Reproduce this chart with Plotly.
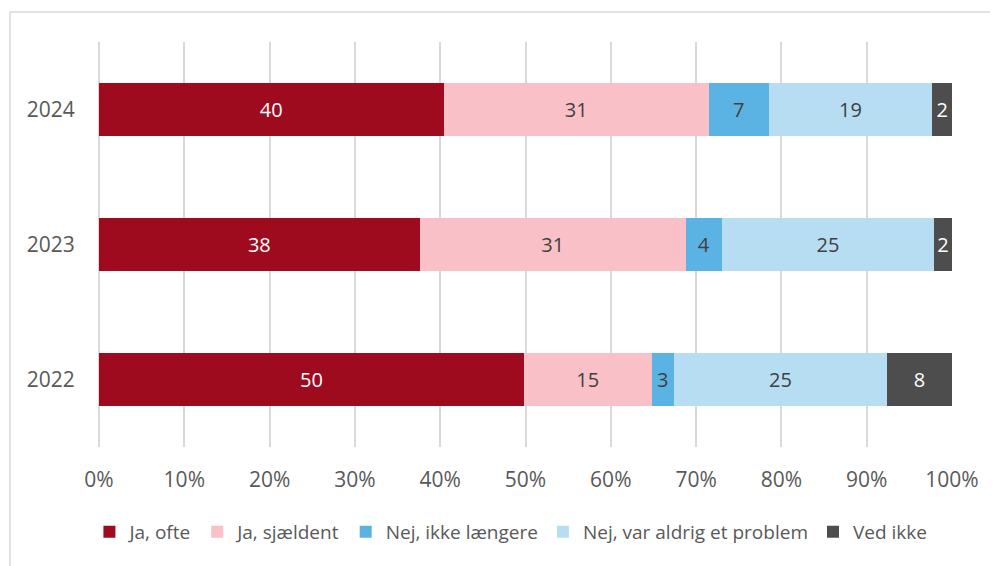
import plotly.graph_objects as go

# Survey share per year (percent)
years = ['2022', '2023', '2024']
series_names = ['Ja, ofte', 'Ja, sjældent', 'Nej, ikke længere',
                'Nej, var aldrig et problem', 'Ved ikke']
ja_ofte = [49.8, 37.6, 40.4]
ja_sjaeldent = [15.0, 31.2, 31.1]
nej_ikke_laengere = [2.6, 4.2, 7.0]
nej_aldrig = [25.0, 24.9, 19.2]
ved_ikke = [7.6, 2.1, 2.3]
x_ticks = [0, 10, 20, 30, 40, 50, 60, 70, 80, 90, 100]

colors = ['#9E0B1F', '#F9C0C8', '#5BB3E3', '#B7DDF3', '#4D4D4D']
text_colors = ['white', '#404040', '#404040', '#404040', 'white']
values = [ja_ofte, ja_sjaeldent, nej_ikke_laengere, nej_aldrig, ved_ikke]

FONT = 'Open Sans'
FS = 21

fig = go.Figure()
for name, vals, col, tcol in zip(series_names, values, colors, text_colors):
    fig.add_trace(go.Bar(
        y=years,
        x=vals,
        name=name,
        orientation='h',
        marker=dict(color=col, line=dict(width=0)),
        texttemplate='%{x:.0f}',
        textposition='inside',
        insidetextanchor='middle',
        textangle=0,
        textfont=dict(color=tcol, size=20, family=FONT),
        hoverinfo='skip',
    ))

# page body keeps its default 8px margin, so the figure is 8px smaller
fig.update_layout(
    width=990,
    height=558,
    barmode='stack',
    bargap=0.61,
    plot_bgcolor='white',
    paper_bgcolor='white',
    margin=dict(l=91, r=46, t=34, b=119, autoexpand=False),
    font=dict(family=FONT, size=FS, color='#595959'),
    uniformtext=dict(minsize=20, mode='show'),
    legend=dict(
        orientation='h',
        x=0.508, xref='container', xanchor='center',
        y=0.061, yref='container', yanchor='middle',
        font=dict(size=19, color='#595959', family=FONT),
        itemwidth=30,
        traceorder='normal',
    ),
    showlegend=True,
)

fig.update_xaxes(
    range=[0, 100],
    tickvals=x_ticks,
    ticktext=[f'{t}%' for t in x_ticks],
    showgrid=True,
    gridcolor='#D9D9D9',
    gridwidth=1.5,
    zeroline=True,
    zerolinecolor='#D9D9D9',
    zerolinewidth=1.5,
    showline=False,
    ticks='outside',
    ticklen=14,
    tickcolor='rgba(0,0,0,0)',
)
fig.update_yaxes(
    showgrid=False,
    showline=False,
    ticks='outside',
    ticklen=19,
    tickcolor='rgba(0,0,0,0)',
)

# outer chart frame (light gray border running off the right/bottom edges)
fig.add_shape(
    type='rect', xref='paper', yref='paper',
    x0=-0.1043, x1=1.06, y0=-0.31, y1=1.074,
    line=dict(color='#D9D9D9', width=1.5),
    fillcolor='rgba(0,0,0,0)',
    layer='below',
)

fig.write_html('out.html')
